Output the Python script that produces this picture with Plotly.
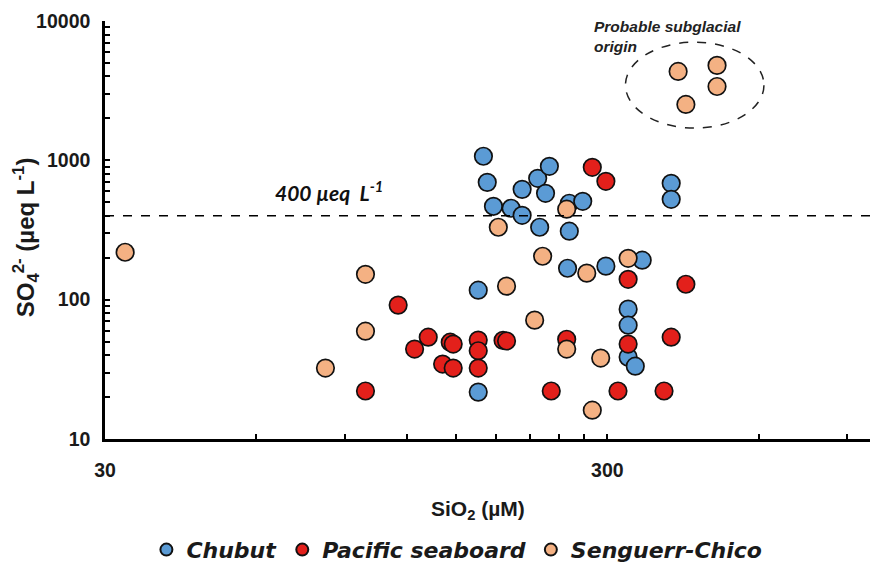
import math
import plotly.graph_objects as go

# ---- data ----
chubut_sio2 = [170, 173, 203, 218, 230, 226, 178, 193, 203, 252, 268, 220, 252, 402, 402,
               250, 298, 352, 166, 330, 330, 330, 341, 166]
chubut_so4 = [1070, 695, 619, 743, 906, 580, 468, 453, 403, 492, 508, 331, 310, 684, 525,
              168, 174, 192, 117, 85.5, 65.6, 38.7, 33.3, 21.7]

pacific_sio2 = [280, 298, 330, 430, 115, 132, 124, 146, 148, 141, 148, 166, 166, 166, 186,
                189, 249, 330, 402, 99, 232, 315, 389]
pacific_so4 = [891, 707, 140, 129, 91.4, 53.8, 44.2, 49.5, 48, 34.5, 32.3, 51.3, 43, 32.3, 51,
               50.5, 52, 48, 53.8, 22.1, 22.1, 22.1, 22.1]

senguerr_sio2 = [32.9, 99, 189, 99, 82.4, 215, 249, 291, 280, 182, 249, 223, 273, 330,
                 415, 496, 496, 430]
senguerr_so4 = [219, 152, 125, 59.4, 32.3, 71.3, 44.2, 38.1, 16.1, 331, 446, 205, 155, 198,
                4345, 4800, 3388, 2518]

threshold = 400
x_tickvals = [30, 60, 90, 120, 150, 180, 210, 240, 270, 300, 600, 900]
x_labels = {30: "30", 300: "300"}
y_tickvals = [m * 10 ** e for e in (1, 2, 3) for m in range(1, 10)] + [10000]
y_labels = {10: "10", 100: "100", 1000: "1000", 10000: "10000"}
ellipse_x = (326, 615)
ellipse_y = (1704, 7047)

series = [
    ("Chubut", chubut_sio2, chubut_so4, "#5B9BD5"),
    ("Pacific seaboard", pacific_sio2, pacific_so4, "#E3201B"),
    ("Senguerr-Chico", senguerr_sio2, senguerr_so4, "#F4B183"),
]

fig = go.Figure()
for name, xs, ys, col in series:
    fig.add_trace(go.Scatter(
        x=xs, y=ys, mode="markers", name=name,
        marker=dict(size=17.5, color=col, line=dict(color="#111111", width=1.7)),
    ))

axis_font = dict(family="Liberation Sans, Arial, sans-serif", size=19.5, color="#1a1a1a", weight="bold")

fig.update_xaxes(
    type="log", range=[math.log10(30), 3],
    tickmode="array", tickvals=x_tickvals,
    ticktext=[x_labels.get(v, "") for v in x_tickvals],
    ticks="inside", ticklen=5, tickwidth=2, tickcolor="black",
    showline=True, linecolor="black", linewidth=2.5,
    showgrid=False, zeroline=False, tickfont=axis_font, ticklabelstandoff=12,
)
fig.update_yaxes(
    type="log", range=[1, 4],
    tickmode="array", tickvals=y_tickvals,
    ticktext=[y_labels.get(v, "") for v in y_tickvals],
    ticks="inside", ticklen=5, tickwidth=2, tickcolor="black",
    showline=True, linecolor="black", linewidth=2.5,
    showgrid=False, zeroline=False, tickfont=axis_font, ticklabelstandoff=8,
)

# threshold line
fig.add_shape(type="line", xref="paper", x0=0, x1=1, yref="y", y0=threshold, y1=threshold,
              line=dict(color="black", width=1.5, dash="dash"))
# subglacial ellipse
fig.add_shape(type="circle", xref="x", yref="y",
              x0=ellipse_x[0], x1=ellipse_x[1], y0=ellipse_y[0], y1=ellipse_y[1],
              line=dict(color="#222222", width=1.5, dash="dash"))

fig.add_annotation(text="400 µeq  L<sup>-1</sup>", xref="paper", yref="paper",
                   x=0.220, y=0.594, xanchor="left", yanchor="middle", showarrow=False,
                   font=dict(family="Lato, Open Sans, sans-serif", size=21, color="#111111",
                             weight="bold", style="italic"))
fig.add_annotation(text="Probable subglacial<br>origin", xref="paper", yref="paper",
                   x=0.636, y=0.963, xanchor="left", yanchor="middle", align="left",
                   showarrow=False,
                   font=dict(family="Liberation Sans, Arial, sans-serif", size=15.5, color="#222222",
                             weight="bold", style="italic"))
# axis titles
fig.add_annotation(text="SiO<sub>2</sub> (µM)", xref="paper", yref="paper",
                   x=0.4876, y=-0.170, xanchor="center", yanchor="middle", showarrow=False,
                   font=dict(family="Liberation Sans, Arial, sans-serif", size=21, color="#1a1a1a",
                             weight="bold"))
fig.add_annotation(text="SO<sub>4</sub><sup>2-</sup> (µeq L<sup>-1</sup>)", xref="paper", yref="paper",
                   x=-0.103, y=0.483, xanchor="center", yanchor="middle", textangle=-90,
                   showarrow=False,
                   font=dict(family="Liberation Sans, Arial, sans-serif", size=24, color="#1a1a1a",
                             weight="bold"))

fig.update_layout(
    width=871, height=568,
    margin=dict(l=105, r=1, t=21, b=129, autoexpand=False),
    paper_bgcolor="white", plot_bgcolor="white",
    showlegend=True,
    legend=dict(orientation="h", x=0.46, xanchor="center",
                yref="container", y=0.032, yanchor="middle",
                itemsizing="constant",
                font=dict(family="DejaVu Sans, sans-serif", size=22, color="#1a1a1a",
                          weight="bold", style="italic")),
)

fig.write_html("out.html")
